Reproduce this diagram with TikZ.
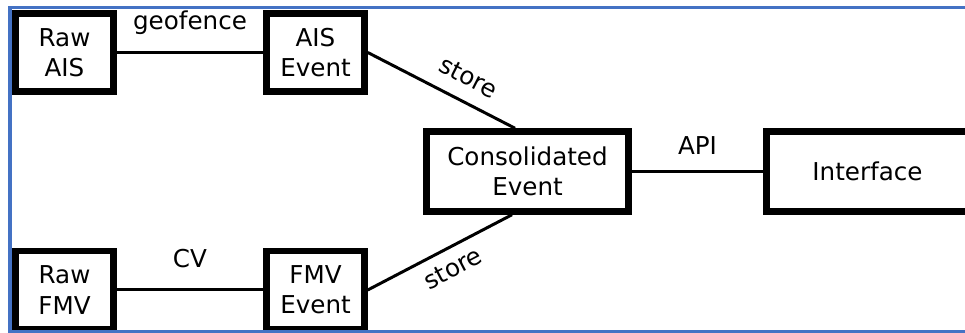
\documentclass[tikz,border=0pt]{standalone}
\usepackage{fontspec}
\setmainfont{DejaVu Sans}
\usepackage{xcolor}
\definecolor{frameblue}{HTML}{4472C4}

\begin{document}
\begin{tikzpicture}[x=0.02cm,y=0.02cm,
	box/.style={draw,line width=3.7pt,align=center,inner sep=0pt,minimum width=1.96cm,minimum height=1.56cm,font=\fontsize{14}{17.2}\selectfont},
	wide/.style={box,minimum width=4.04cm,minimum height=1.6cm},
	link/.style={line width=1.7pt},
	lbl/.style={inner sep=0pt,text height=0.75em,text depth=0.25em,font=\fontsize{14}{17.2}\selectfont}]
	\useasboundingbox (0,0) rectangle (965,333);
	\node[box] (rawais) at (64.5,280.5) {Raw\\AIS};
	\node[box] (aisev) at (315.5,280.5) {AIS\\Event};
	\node[box] (rawfmv) at (64.5,43) {Raw\\FMV};
	\node[box] (fmvev) at (315.5,43) {FMV\\Event};
	\node[wide] (consol) at (527.5,161.5) {Consolidated\\Event};
	\node[wide] (iface) at (867.5,161.5) {Interface};
	\draw[link] (rawais) -- node[lbl,above=9.5pt] {geofence} (aisev);
	\draw[link] (rawfmv) -- node[lbl,above=9.5pt] {CV} (fmvev);
	\draw[link] (consol) -- node[lbl,above=6.1pt] {API} (iface);
	\draw[link] (aisev.east) -- node[lbl,sloped,above,inner sep=5.6pt,pos=0.61] {store} ([xshift=-0.25cm]consol.north);
	\draw[link] (fmvev.east) -- node[lbl,sloped,below,inner sep=7.9pt,pos=0.525] {store} ([xshift=-0.31cm]consol.south);
	\draw[frameblue,line width=1.8pt] (965,1) -- (10,1) -- (10,325.5) -- (965,325.5);
\end{tikzpicture}
\end{document}
